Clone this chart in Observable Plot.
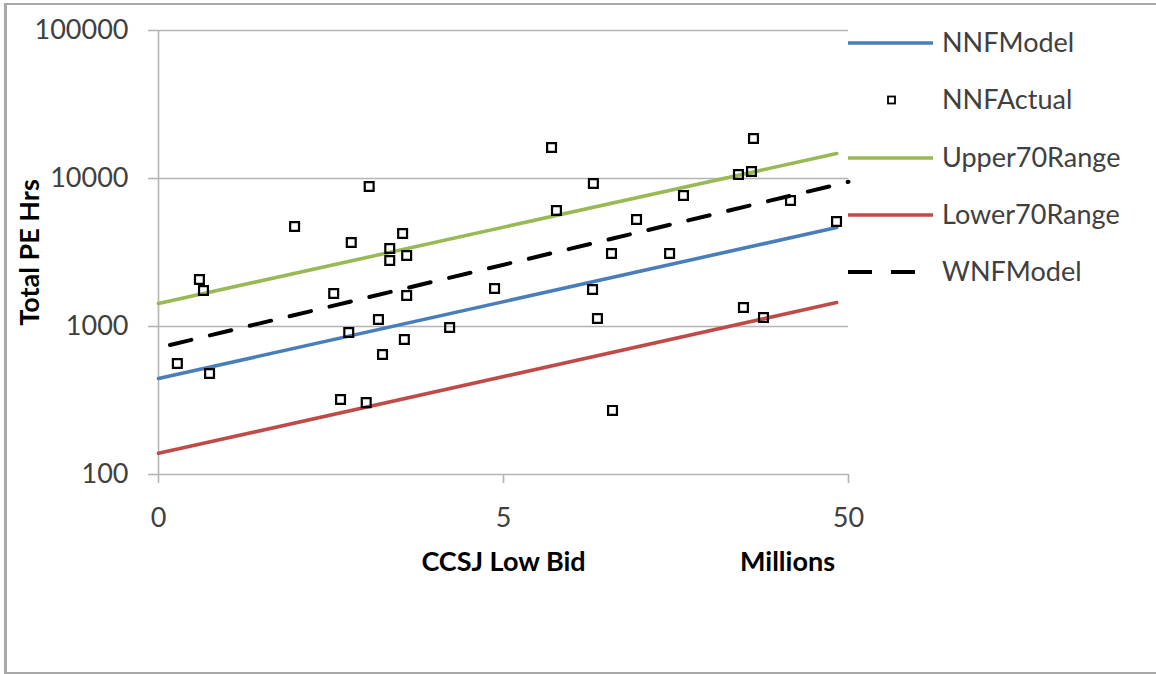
<!DOCTYPE html>
<html>
<head>
<meta charset="utf-8">
<script src="https://cdn.jsdelivr.net/npm/d3@7"></script>
<script src="https://cdn.jsdelivr.net/npm/@observablehq/plot@0.6"></script>
<style>
  html, body { margin: 0; padding: 0; background: #fff; overflow: hidden; }
  #wrap { position: relative; width: 1156px; height: 674px; overflow: hidden; font-family: Lato, "Open Sans", sans-serif; }
  #frame { position: absolute; left: 4px; top: 3px; width: 1170px; height: 671px; border: 2px solid #a8a8a8; border-left-width: 3px; box-sizing: border-box; }
  #chart { position: absolute; left: 0; top: 0; }
  #legend { position: absolute; left: 0; top: 0; }
</style>
</head>
<body>
<div id="wrap">
  <div id="frame"></div>
  <div id="chart"></div>
  <svg id="legend" width="1156" height="674"></svg>
</div>
<script>
// ---- Data ----
// NNFActual scatter: CCSJ low bid (millions) and total PE hours
const actualBid = [0.567, 0.657, 0.675, 0.703, 1.24, 1.61, 1.685, 1.78, 1.81, 2.04,
                   2.00, 2.17, 2.23, 2.34, 2.34, 2.55, 2.62, 2.62, 2.58, 3.49,
                   4.71, 6.89, 7.12, 9.11, 9.06, 9.36, 10.28, 10.35, 12.15, 15.15,
                   16.62, 23.99, 26.52, 26.17, 24.8, 28.35, 33.95, 46.16];
const actualHrs = [562, 2078, 1750, 481, 4740, 1671, 321, 911, 3696, 8830,
                   306, 1115, 647, 3366, 2792, 4250, 3017, 1620, 817, 985,
                   1806, 16200, 6080, 9250, 1778, 1132, 3113, 271, 5284, 3113,
                   7677, 10640, 18630, 11150, 1344, 1150, 7100, 5120];

// Model lines (straight in log-log): endpoints
const modelBid = [0.5, 46.2];
const nnfModel = [445, 4670];
const upper70Range = [1430, 14750];
const lower70Range = [139, 1452];
const wnfBid = [0.54, 50];
const wnfModel = [750, 9500];

// Axis ticks
const xTicks = [0.5, 5, 50];
const xTickLabels = ["0", "5", "50"];
const yTicks = [100, 1000, 10000, 100000];

// Series names / colors
const seriesNames = ["NNFModel", "NNFActual", "Upper70Range", "Lower70Range", "WNFModel"];
const seriesColors = ["#4a7ebb", "#000000", "#98b954", "#be4b48", "#000000"];

// ---- Build tables ----
const actual = actualBid.map((b, i) => ({bid: b, hrs: actualHrs[i]}));
const lineTable = (xs, ys) => xs.map((x, i) => ({bid: x, hrs: ys[i]}));
const nnfLine = lineTable(modelBid, nnfModel);
const upLine = lineTable(modelBid, upper70Range);
const loLine = lineTable(modelBid, lower70Range);
const wnfLine = lineTable(wnfBid, wnfModel);

const gridColor = "#b5b5b5";
const font = "Lato, 'Open Sans', sans-serif";

const chart = Plot.plot({
  width: 1156,
  height: 674,
  marginLeft: 158,
  marginRight: 308,
  marginTop: 30,
  marginBottom: 200,
  x: {type: "log", domain: [0.5, 50]},
  y: {type: "log", domain: [100, 100000]},
  style: {fontFamily: font, fontSize: "27px", color: "#404040", background: "transparent", overflow: "visible"},
  marks: [
    Plot.ruleY(yTicks.slice(1), {stroke: gridColor, strokeWidth: 1.6}),
    Plot.ruleY([100], {stroke: gridColor, strokeWidth: 1.6}),
    Plot.ruleX([0.5], {stroke: gridColor, strokeWidth: 1.6}),
    Plot.axisY({ticks: yTicks, tickFormat: d => String(d), tickSize: 10, tickPadding: 20,
                stroke: gridColor, strokeWidth: 1.6, label: null, fontSize: 27}),
    Plot.axisX({ticks: xTicks, tickFormat: d => xTickLabels[xTicks.indexOf(d)], tickSize: 9, tickPadding: 24,
                stroke: gridColor, strokeWidth: 1.6, label: null, fontSize: 27}),
    Plot.line(upLine, {x: "bid", y: "hrs", stroke: seriesColors[2], strokeWidth: 3.6}),
    Plot.line(loLine, {x: "bid", y: "hrs", stroke: seriesColors[3], strokeWidth: 3.6}),
    Plot.line(nnfLine, {x: "bid", y: "hrs", stroke: seriesColors[0], strokeWidth: 3.6}),
    Plot.line(wnfLine, {x: "bid", y: "hrs", stroke: "#000", strokeWidth: 4, strokeDasharray: "22,19"}),
    Plot.dot(actual, {x: "bid", y: "hrs", symbol: "square", r: 5, fill: "none", stroke: "#000", strokeWidth: 2.2}),
    Plot.text(["Total PE Hrs"], {frameAnchor: "left", dx: -128, rotate: -90, textAnchor: "middle", fontWeight: "bold", fontSize: 27, fill: "#000"}),
    Plot.text(["CCSJ Low Bid"], {frameAnchor: "bottom", dy: 96, textAnchor: "middle", fontWeight: "bold", fontSize: 27, fill: "#000"}),
    Plot.text(["Millions"], {frameAnchor: "bottom-right", dx: -61, dy: 96, textAnchor: "middle", fontWeight: "bold", fontSize: 27, fill: "#000"})
  ]
});
document.getElementById("chart").appendChild(chart);

// ---- Legend ----
const leg = d3.select("#legend");
const legY = [43, 100, 158, 215, 272];
seriesNames.forEach((name, i) => {
  const y = legY[i];
  if (name === "NNFActual") {
    leg.append("rect").attr("x", 888).attr("y", y - 3.5).attr("width", 7).attr("height", 7)
      .attr("fill", "none").attr("stroke", "#000").attr("stroke-width", 1.8);
  } else if (name === "WNFModel") {
    leg.append("line").attr("x1", 848).attr("x2", 933).attr("y1", y).attr("y2", y)
      .attr("stroke", "#000").attr("stroke-width", 4).attr("stroke-dasharray", "24,19");
  } else {
    leg.append("line").attr("x1", 848).attr("x2", 933).attr("y1", y).attr("y2", y)
      .attr("stroke", seriesColors[i]).attr("stroke-width", 3.6);
  }
  leg.append("text").attr("x", 942).attr("y", y).attr("dy", "0.35em")
    .attr("font-family", font).attr("font-size", 27).attr("fill", "#404040").text(name);
});
</script>
</body>
</html>
